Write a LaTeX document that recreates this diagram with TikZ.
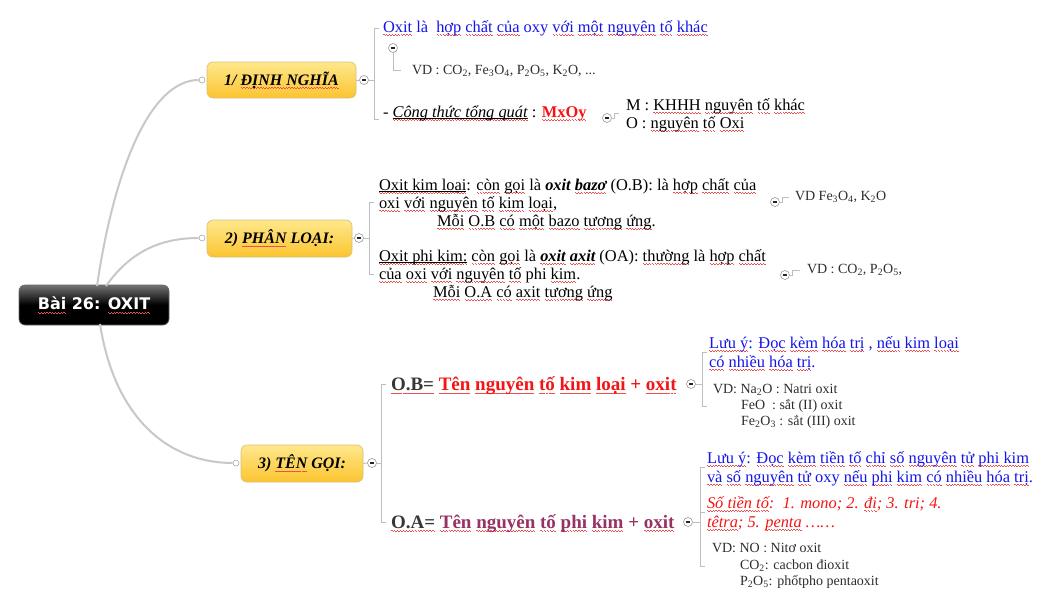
\documentclass[tikz,border=0pt]{standalone}
\usepackage{fontspec}
\setmainfont{Liberation Serif}
\newfontfamily\rootfont{DejaVu Sans}
\definecolor{wavered}{RGB}{238,80,80}
\definecolor{tblue}{RGB}{20,20,235}
\definecolor{tred}{RGB}{245,20,20}
\definecolor{tmaroon}{RGB}{150,50,100}
\definecolor{tdark}{RGB}{55,55,55}
\definecolor{tvd}{RGB}{45,45,45}
\definecolor{linegray}{RGB}{190,190,190}
\definecolor{boxtop}{RGB}{254,232,140}
\definecolor{boxbot}{RGB}{251,196,48}
\definecolor{boxedge}{RGB}{220,190,120}
\newsavebox\wvbox
\newcommand\wavebar[1]{\rlap{\hbox to #1{\color{wavered}\xleaders\hbox{\vrule height -2.1pt depth 2.6pt width 1.4pt\vrule height -2.7pt depth 3.2pt width 1.4pt}\hfil}}}
\newcommand\wv[1]{\sbox\wvbox{#1}\wavebar{\wd\wvbox}\usebox\wvbox}
\newcommand\uwv[1]{\sbox\wvbox{#1}\rlap{\vrule height -0.9pt depth 1.5pt width \wd\wvbox}\wavebar{\wd\wvbox}\usebox\wvbox}
\newcommand\sbs[1]{\textsubscript{#1}}
\newcommand\blk[2]{\vtop{\baselineskip=#1\relax\lineskiplimit=-100pt\lineskip=0pt\halign{##\hfil\cr#2\crcr}}}
\tikzset{
  txt/.style={inner sep=0pt, outer sep=0pt, anchor=base west},
  fa/.style={font=\fontsize{16.4}{18}\selectfont},
  fb/.style={font=\fontsize{14}{16}\selectfont},
  fc/.style={font=\fontsize{19}{22}\selectfont\bfseries},
  gline/.style={draw=linegray, line width=0.9pt},
  curve/.style={draw=linegray!85, line width=2pt},
  collapse/.style={circle, draw=black!40, fill=white, line width=0.6pt, minimum size=9pt, inner sep=0pt,
    path picture={\draw[line width=1.1pt, black!85] ([xshift=-2.4pt]path picture bounding box.center) -- ([xshift=2.4pt]path picture bounding box.center);}},
  dot/.style={circle, draw=black!35, fill=white, line width=0.6pt, minimum size=6pt, inner sep=0pt},
  topic/.style={rounded corners=6pt, draw=boxedge, line width=0.6pt, top color=boxtop, bottom color=boxbot,
    font=\fontsize{16}{18}\selectfont\bfseries\itshape, text=black, inner sep=0pt},
  rootbox/.style={rounded corners=6pt, draw=black!60, line width=0.6pt, top color=black!55, bottom color=black, middle color=black,
    font=\rootfont\fontsize{16}{18}\selectfont\bfseries, text=white, inner sep=0pt},
}
\begin{document}
\begin{tikzpicture}[x=1pt, y=-1pt]
\fill[white] (0,0) rectangle (1055,608);
\useasboundingbox (0,0) rectangle (1055,608);

% root and topics
\node[rootbox, minimum width=150pt, minimum height=40pt] (root) at (94,305) {\wv{Bài} 26: \wv{OXIT}};
\node[topic, minimum width=149pt, minimum height=36pt] (b1) at (281.5,80) {1/ \wv{ĐỊNH NGHĨA}};
\node[topic, minimum width=145pt, minimum height=37pt] (b2) at (279.5,238.5) {2) \wv{PHÂN} LOẠI:};
\node[topic, minimum width=122pt, minimum height=37pt] (b3) at (302,463.5) {3) \wv{TÊN} GỌI:};

\node[dot] (d1) at (202,80) {};
\node[dot] (d2) at (202,238) {};
\node[dot] (d3) at (236,463) {};

\coordinate (r1) at (97,286);
\coordinate (r2) at (106,286);
\coordinate (r3) at (100,324);
\draw[curve] (r1) .. controls (114,170) and (150,80) .. (d1.west);
\draw[curve] (r2) .. controls (130,252) and (160,238) .. (d2.west);
\draw[curve] (r3) .. controls (115,420) and (170,463) .. (d3.west);

\node[collapse] (c1) at (364,80) {};
\node[collapse] (c2) at (359,238) {};
\node[collapse] (c3) at (372,463) {};
\draw[gline] (b1.east) -- (c1.west);
\draw[gline] (b2.east) -- (c2.west);
\draw[gline] (b3.east) -- (c3.west);

% ---------- 1/ DINH NGHIA ----------
\coordinate (k1t) at (374,28);
\coordinate (k1b) at (374,119);
\draw[gline] (c1.east) -- (c1.east -| k1t);
\draw[gline] ([xshift=5pt]k1t) -- (k1t) -- (k1b) -- ([xshift=5pt]k1b);

\node[txt, fa, text=tblue] (def) at (383,32) {\wv{Oxit} là\ \ \wv{hợp} \wv{chất} \wv{của} oxy \wv{với} \wv{một} \wv{nguyên} \wv{tố} \wv{khác}};
\node[collapse] (c1a) at (393,48) {};
\node[txt, fb, text=tvd] (vd1) at (412,74.5) {VD : CO\sbs{2}, Fe\sbs{3}O\sbs{4}, P\sbs{2}O\sbs{5}, K\sbs{2}O, ...};
\coordinate (vd1in) at (401,70);
\draw[gline] (c1a.south) |- (vd1in);

\node[txt, fa, text=black] (ct) at (383,117) {- \uwv{\itshape Công thức tổng quát} : {\color{tred}\bfseries\wv{MxOy}}};
\node[collapse] (c1b) at (607,118) {};
\node[txt, fa, text=black] (mo) at (626,110) {\blk{18pt}{M : \wv{KHHH} \wv{nguyên} \wv{tố} \wv{khác}\cr O : \wv{nguyên} \wv{tố} \wv{Oxi}}};
\coordinate (moin) at (619,113.5);
\draw[gline] (c1b.east) -- ++(3,0) |- (moin);

% ---------- 2) PHAN LOAI ----------
\coordinate (k2t) at (369,202);
\coordinate (k2b) at (369,274);
\draw[gline] (c2.east) -- (c2.east -| k2t);
\draw[gline] ([xshift=5pt]k2t) -- (k2t) -- (k2b) -- ([xshift=5pt]k2b);

\node[txt, fa, text=black] (ob) at (379,190) {\blk{18pt}{%
\uwv{Oxit kim loại}: \wv{còn} \wv{gọi} là \textbf{\textit{oxit \wv{bazơ}}} (O.B): là \wv{hợp} \wv{chất} \wv{của}\cr
\wv{oxi} \wv{với} \wv{nguyên} \wv{tố} \wv{kim} \wv{loại},\cr
\hspace*{58pt}\wv{Mỗi} \wv{O.B} \wv{có} \wv{một} \wv{bazo} \wv{tương} \wv{ứng}.}};
\node[collapse] (c2a) at (775,202) {};
\node[txt, fb, text=tvd] (vd2) at (795,200.5) {VD Fe\sbs{3}O\sbs{4}, K\sbs{2}O};
\coordinate (vd2in) at (789,197);
\draw[gline] (c2a.east) -- ++(3,0) |- (vd2in);

\node[txt, fa, text=black] (oa) at (379,261) {\blk{18pt}{%
\uwv{Oxit phi kim:} \wv{còn} \wv{gọi} là \textbf{\textit{\wv{oxit} \wv{axit}}} (OA): \wv{thường} là \wv{hợp} \wv{chất}\cr
\wv{của} \wv{oxi} \wv{với} \wv{nguyên} \wv{tố} phi \wv{kim}.\cr
\hspace*{54pt}\wv{Mỗi} \wv{O.A} \wv{có} \wv{axit} \wv{tương} \wv{ứng}}};
\node[collapse] (c2b) at (785,275) {};
\node[txt, fb, text=tvd] (vd3) at (807,273.5) {VD : CO\sbs{2}, P\sbs{2}O\sbs{5},};
\coordinate (vd3in) at (800,270);
\draw[gline] (c2b.east) -- ++(3,0) |- (vd3in);

% ---------- 3) TEN GOI ----------
\coordinate (k3t) at (381,384);
\coordinate (k3b) at (381,522);
\draw[gline] (c3.east) -- (c3.east -| k3t);
\draw[gline] ([xshift=5pt]k3t) -- (k3t) -- (k3b) -- ([xshift=5pt]k3b);

\node[txt, fc] (nb) at (391,390.5) {{\color{tdark}\wv{O.B=}} {\color{tred}\wv{Tên} \wv{nguyên} \wv{tố} \wv{kim} \wv{loại} + \wv{oxit}}};
\node[collapse] (c3a) at (691,384) {};
\coordinate (k4t) at (702,352);
\coordinate (k4b) at (702,406);
\draw[gline] (c3a.east) -- (c3a.east -| k4t);
\draw[gline] ([xshift=5pt]k4t) -- (k4t) -- (k4b) -- ([xshift=5pt]k4b);
\node[txt, fa, text=tblue] (lb) at (709,348) {\blk{19pt}{\wv{Lưu ý}: \wv{Đọc} \wv{kèm} \wv{hóa} \wv{trị} , \wv{nếu} \wv{kim} \wv{loại}\cr \wv{có} \wv{nhiều} \wv{hóa} \wv{trị}.}};
\node[txt, fb, text=tvd] (vb) at (713,393) {\blk{16pt}{VD: Na\sbs{2}O : Natri oxit\cr
\hspace*{28pt}FeO\ \ : sắt (II) oxit\cr
\hspace*{28pt}Fe\sbs{2}O\sbs{3} : sắt (III) oxit}};

\node[txt, fc] (na) at (391,528) {{\color{tdark}\wv{O.A=}} {\color{tmaroon}\wv{Tên} \wv{nguyên} \wv{tố} \wv{phi} \wv{kim} + \wv{oxit}}};
\node[collapse] (c3b) at (688,522) {};
\coordinate (k5t) at (700,467);
\coordinate (k5m) at (700,512);
\coordinate (k5b) at (700,566);
\draw[gline] (c3b.east) -- (c3b.east -| k5t);
\draw[gline] ([xshift=5pt]k5t) -- (k5t) -- (k5b) -- ([xshift=5pt]k5b);
\draw[gline] (k5m) -- ([xshift=5pt]k5m);
\node[txt, fa, text=tblue] (la) at (707,463) {\blk{19pt}{\wv{Lưu ý}: \wv{Đọc} \wv{kèm} \wv{tiền} \wv{tố} \wv{chỉ} \wv{số} \wv{nguyên} \wv{tử} \wv{phi kim}\cr
\wv{và} \wv{số} \wv{nguyên} \wv{tử} oxy \wv{nếu} \wv{phi} \wv{kim} \wv{có} \wv{nhiều} \wv{hóa} \wv{trị}.}};
\node[txt, fa, text=tred] (st) at (707,508) {\itshape\blk{19pt}{\wv{Số tiền tố}:\ \ 1. mono; 2. \wv{đi}; 3. tri; 4.\cr
\wv{têtra}; 5. \wv{penta} ……}};
\node[txt, fb, text=tvd] (va) at (712,552.5) {\blk{16.5pt}{VD: NO : Nitơ oxit\cr
\hspace*{28pt}CO\sbs{2}: cacbon đioxit\cr
\hspace*{28pt}P\sbs{2}O\sbs{5}: phốtpho pentaoxit}};
\end{tikzpicture}
\end{document}
